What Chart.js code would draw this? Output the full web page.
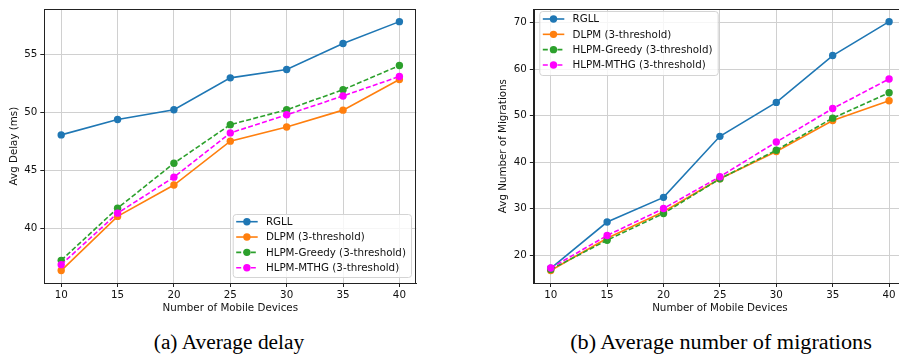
<!DOCTYPE html>
<html>
<head>
<meta charset="utf-8">
<script src="https://cdn.jsdelivr.net/npm/chart.js@4.4.0/dist/chart.umd.min.js"></script>
<style>
  html, body { margin: 0; padding: 0; background: #fff; width: 899px; height: 358px; overflow: hidden; }
  #boxA { position: absolute; left: 0; top: 0; }
  #boxB { position: absolute; left: 460px; top: 0; }
  .cap { position: absolute; top: 332px; font-family: "Liberation Serif", "Times New Roman", serif;
         font-size: 20px; line-height: 20px; color: #000; white-space: nowrap; }
</style>
</head>
<body>
<div id="boxA"><canvas id="delayChart" width="420" height="320"></canvas></div>
<div id="boxB"><canvas id="migChart" width="450" height="320"></canvas></div>
<div class="cap" style="left:229px; transform:translateX(-50%) scaleX(1.07)">(a) Average delay</div>
<div class="cap" style="left:721px; transform:translateX(-50%) scaleX(1.11)">(b) Average number of migrations</div>

<script>
// data
const devices = [10, 15, 20, 25, 30, 35, 40];
const seriesNames = ['RGLL', 'DLPM (3-threshold)', 'HLPM-Greedy (3-threshold)', 'HLPM-MTHG (3-threshold)'];

const delayRGLL   = [48.04, 49.37, 50.20, 52.95, 53.67, 55.91, 57.79];
const delayDLPM   = [36.36, 41.02, 43.72, 47.50, 48.72, 50.17, 52.81];
const delayGreedy = [37.24, 41.73, 45.60, 48.92, 50.20, 51.93, 54.01];
const delayMTHG   = [36.87, 41.30, 44.40, 48.21, 49.77, 51.39, 53.07];

const migRGLL   = [17.15, 27.09, 32.40, 45.53, 52.83, 62.90, 70.20];
const migDLPM   = [16.66, 23.60, 29.30, 36.40, 42.26, 48.94, 53.19];
const migGreedy = [16.90, 23.19, 28.94, 36.40, 42.55, 49.44, 54.90];
const migMTHG   = [17.20, 24.20, 30.00, 36.85, 44.30, 51.50, 57.87];

const delayTicks = [40, 45, 50, 55];
const migTicks = [20, 30, 40, 50, 60, 70];

const colors = ['#1f77b4', '#ff7f0e', '#2ca02c', '#ff00ff'];
const dashes = [[], [], [5, 2.3], [5, 2.3]];
const FONT = "'DejaVu Sans', sans-serif";

// matplotlib style 5% margins
function padRange(arrs) {
  const all = arrs.flat();
  const lo = Math.min(...all), hi = Math.max(...all);
  const m = (hi - lo) * 0.05;
  return [lo - m, hi + m];
}

// spines + legend box drawn on top of the lines
const frameAndLegend = {
  id: 'frameAndLegend',
  afterDatasetsDraw(chart, args, opts) {
    const ctx = chart.ctx;
    const a = chart.chartArea;
    ctx.save();
    ctx.strokeStyle = '#222';
    ctx.lineWidth = 1;
    ctx.strokeRect(Math.round(a.left) + 0.5, Math.round(a.top) + 0.5,
                   Math.round(a.right - a.left) - 1, Math.round(a.bottom - a.top));

    const L = opts;
    ctx.fillStyle = 'rgba(255,255,255,0.8)';
    ctx.strokeStyle = '#d4d4d4';
    ctx.beginPath();
    ctx.roundRect(L.x + 0.5, L.y + 0.5, L.w, L.h, 3);
    ctx.fill();
    ctx.stroke();

    ctx.font = '10.3px ' + FONT;
    ctx.textBaseline = 'middle';
    chart.data.datasets.forEach((ds, i) => {
      const ry = L.y + L.first + i * L.step;
      ctx.strokeStyle = ds.borderColor;
      ctx.lineWidth = 1.6;
      ctx.setLineDash(ds.borderDash || []);
      ctx.beginPath();
      ctx.moveTo(L.x + 3.5, ry);
      ctx.lineTo(L.x + 25, ry);
      ctx.stroke();
      ctx.setLineDash([]);
      ctx.fillStyle = ds.borderColor;
      ctx.beginPath();
      ctx.arc(L.x + 14.2, ry, 3.7, 0, Math.PI * 2);
      ctx.fill();
      ctx.fillStyle = '#111';
      ctx.fillText(ds.label, L.x + 33.2, ry + 0.5);
    });
    ctx.restore();
  }
};

function makeSets(arrs) {
  return arrs.map((vals, i) => ({
    label: seriesNames[i],
    data: devices.map((x, k) => ({ x: x, y: vals[k] })),
    borderColor: colors[i],
    backgroundColor: colors[i],
    borderWidth: 1.6,
    borderDash: dashes[i],
    pointRadius: 3.7,
    pointBorderWidth: 0,
    pointHoverRadius: 3.7,
    tension: 0,
    order: arrs.length - i
  }));
}

function makeChart(id, arrs, yTicks, yTitle, yWidth, titlePad, padRight, legend) {
  const [ymin, ymax] = padRange(arrs);
  const [xmin, xmax] = padRange([devices]);
  const gridCfg = { color: '#d0d0d0', lineWidth: 1, tickColor: '#222', tickLength: 4 };
  return new Chart(document.getElementById(id), {
    type: 'line',
    data: { datasets: makeSets(arrs) },
    options: {
      responsive: false,
      animation: false,
      layout: { padding: { left: 0, right: padRight, top: 5, bottom: 0 } },
      plugins: { legend: { display: false }, tooltip: { enabled: false }, frameAndLegend: legend },
      scales: {
        x: {
          type: 'linear', min: xmin, max: xmax,
          afterBuildTicks: s => { s.ticks = devices.map(v => ({ value: v })); },
          afterFit: s => { s.height = 37; },
          grid: gridCfg,
          border: { color: '#222' },
          ticks: { color: '#111', font: { family: FONT, size: 10.3 }, padding: 2, maxRotation: 0 },
          title: { display: true, text: 'Number of Mobile Devices', color: '#111',
                   font: { family: FONT, size: 10.3 }, padding: { top: 0, bottom: 5 } }
        },
        y: {
          min: ymin, max: ymax,
          afterBuildTicks: s => { s.ticks = yTicks.map(v => ({ value: v })); },
          afterFit: s => { s.width = yWidth; },
          grid: gridCfg,
          border: { color: '#222' },
          ticks: { color: '#111', font: { family: FONT, size: 10.3 }, padding: 3 },
          title: { display: true, text: yTitle, color: '#111',
                   font: { family: FONT, size: 10.3 }, padding: { top: titlePad, bottom: 0 } }
        }
      }
    },
    plugins: [frameAndLegend]
  });
}

makeChart('delayChart', [delayRGLL, delayDLPM, delayGreedy, delayMTHG], delayTicks,
          'Avg Delay (ms)', 44.3, 8, 3.3,
          { x: 232.7, y: 214, w: 178.3, h: 63, first: 7.7, step: 15.33 });

makeChart('migChart', [migRGLL, migDLPM, migGreedy, migMTHG], migTicks,
          'Avg Number of Migrations', 73.8, 37, 4,
          { x: 79.3, y: 11, w: 178.4, h: 64, first: 8, step: 15.33 });
</script>
</body>
</html>
